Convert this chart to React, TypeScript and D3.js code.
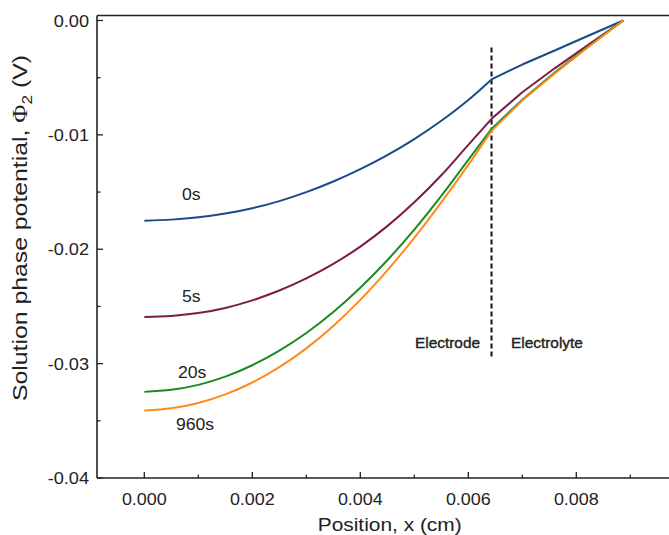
import React from "react";
import * as d3 from "d3";

// Positions across the cell (cm); index 13 is the electrode/electrolyte interface
const positions = [
  0, 0.0005, 0.001, 0.0015, 0.002, 0.0025, 0.003, 0.0035, 0.004, 0.0045, 0.005,
  0.0055, 0.006, 0.00643, 0.007, 0.0076, 0.0082, 0.00887,
];
const interfaceIndex = 13;
const interfaceX = 0.00643;

// Solution phase potential (V) at each position for each time
const phi0s = [
  -0.01751, -0.01741, -0.01721, -0.01688, -0.01641, -0.01579, -0.01501, -0.01408,
  -0.013, -0.01177, -0.01037, -0.00877, -0.00695, -0.00515, -0.00385, -0.00262,
  -0.00138, 0,
];
const phi5s = [
  -0.02592, -0.02583, -0.02558, -0.02513, -0.02447, -0.02361, -0.02255, -0.02128,
  -0.01977, -0.01798, -0.01589, -0.01353, -0.01087, -0.0086, -0.00627, -0.00418,
  -0.0022, 0,
];
const phi20s = [
  -0.03247, -0.03229, -0.03186, -0.03114, -0.03014, -0.02887, -0.02732, -0.02548,
  -0.02336, -0.02096, -0.01828, -0.01533, -0.01218, -0.00948, -0.00692, -0.00455,
  -0.00234, 0,
];
const phi960s = [
  -0.0341, -0.0339, -0.03344, -0.03269, -0.03165, -0.03031, -0.02867, -0.02671,
  -0.02443, -0.02185, -0.019, -0.0159, -0.01262, -0.00965, -0.007, -0.00463,
  -0.0024, 0,
];

const seriesNames = ["0s", "5s", "20s", "960s"];
const seriesValues = [phi0s, phi5s, phi20s, phi960s];
const seriesColors = ["#1b4a8c", "#7c1a4c", "#1c8a1f", "#ff8a1c"];

const xMajorTicks = [0, 0.002, 0.004, 0.006, 0.008];
const xMinorTicks = [0.001, 0.003, 0.005, 0.007, 0.009];
const yMajorTicks = [0, -0.01, -0.02, -0.03, -0.04];
const yMinorTicks = [-0.005, -0.015, -0.025, -0.035];

const W = 669;
const H = 535;
const FONT = "'Liberation Sans', Arial, Helvetica, sans-serif";
const INK = "#222";
const SX = 1.1;

const x = d3.scaleLinear().domain([0, 0.008]).range([144.3, 576.3]);
const y = d3.scaleLinear().domain([-0.04, 0]).range([478, 20.5]);

const frameLeft = 97;
const frameTop = 15.5;
const frameBottom = y(-0.04);
const frameRight = 700;

function Label(props: {
  x: number;
  y: number;
  anchor?: string;
  size: number;
  bold?: boolean;
  children: React.ReactNode;
}) {
  return (
    <text
      transform={`translate(${props.x},${props.y}) scale(${SX},1)`}
      textAnchor={props.anchor || "start"}
      fontSize={props.size}
      fontFamily={FONT}
      fill={INK}
      stroke={props.bold ? INK : "none"}
      strokeWidth={props.bold ? 0.35 : 0}
    >
      {props.children}
    </text>
  );
}

export default function App() {
  const pts = (vals: number[]) => positions.map((p, i) => [p, vals[i]] as [number, number]);
  // electrode side drawn as a smooth curve, electrolyte side as straight segments
  const electrodeLine = d3
    .line<[number, number]>()
    .x((d) => x(d[0]))
    .y((d) => y(d[1]))
    .curve(d3.curveMonotoneX);
  const electrolyteLine = d3
    .line<[number, number]>()
    .x((d) => x(d[0]))
    .y((d) => y(d[1]))
    .curve(d3.curveLinear);

  const curvePath = (vals: number[]) => {
    const all = pts(vals);
    const left = electrodeLine(all.slice(0, interfaceIndex + 1)) || "";
    const right = electrolyteLine(all.slice(interfaceIndex)) || "";
    return left + right.replace(/^M/, "L");
  };

  const labelPos = [
    { px: 182, py: 200 },
    { px: 182, py: 301.5 },
    { px: 178, py: 378 },
    { px: 176, py: 430 },
  ];

  return (
    <svg
      width={W}
      height={H}
      style={{ position: "absolute", left: 0, top: 0, background: "#fff" }}
    >
      {/* frame */}
      <line x1={frameLeft} x2={frameRight} y1={frameTop} y2={frameTop} stroke={INK} strokeWidth={1.6} />
      <line x1={frameLeft} x2={frameLeft} y1={frameTop} y2={frameBottom} stroke={INK} strokeWidth={1.6} />
      <line x1={frameLeft} x2={frameRight} y1={frameBottom} y2={frameBottom} stroke={INK} strokeWidth={1.6} />

      {/* y ticks */}
      {yMajorTicks.map((t) => (
        <g key={`ym${t}`}>
          <line x1={frameLeft} x2={frameLeft + 6} y1={y(t)} y2={y(t)} stroke={INK} strokeWidth={1.3} />
          <Label x={89} y={y(t) + 6} anchor="end" size={16.5}>
            {d3.format(".2f")(t).replace("−", "-")}
          </Label>
        </g>
      ))}
      {yMinorTicks.map((t) => (
        <line key={`yn${t}`} x1={frameLeft} x2={frameLeft + 3.5} y1={y(t)} y2={y(t)} stroke={INK} strokeWidth={1.3} />
      ))}

      {/* x ticks */}
      {xMajorTicks.map((t) => (
        <g key={`xm${t}`}>
          <line x1={x(t)} x2={x(t)} y1={frameBottom} y2={frameBottom - 6} stroke={INK} strokeWidth={1.3} />
          <Label x={x(t)} y={505} anchor="middle" size={16.3}>
            {d3.format(".3f")(t)}
          </Label>
        </g>
      ))}
      {xMinorTicks.map((t) => (
        <line key={`xn${t}`} x1={x(t)} x2={x(t)} y1={frameBottom} y2={frameBottom - 3.5} stroke={INK} strokeWidth={1.3} />
      ))}

      {/* axis titles */}
      <text
        x={389.7}
        y={531}
        textAnchor="middle"
        fontSize={18.5}
        fontFamily={FONT}
        fill={INK}
        textLength={144}
        lengthAdjust="spacingAndGlyphs"
      >
        Position, x (cm)
      </text>
      <text
        transform={`translate(27,228) rotate(-90)`}
        textAnchor="middle"
        fontSize={20}
        fontFamily={FONT}
        fill={INK}
        textLength={346}
        lengthAdjust="spacingAndGlyphs"
      >
        Solution phase potential,{" "}
        <tspan fontFamily="'Liberation Serif', 'Times New Roman', serif">Φ</tspan>
        <tspan fontSize={14} dy={5}>2</tspan>
        <tspan dy={-5}> (V)</tspan>
      </text>

      {/* interface marker */}
      <line
        x1={x(interfaceX)}
        x2={x(interfaceX)}
        y1={y(-0.00235)}
        y2={y(-0.02965)}
        stroke="#111"
        strokeWidth={2}
        strokeDasharray="5,3"
      />
      <Label x={480} y={348} anchor="end" size={14} bold>
        Electrode
      </Label>
      <Label x={511} y={348} anchor="start" size={14} bold>
        Electrolyte
      </Label>

      {/* potential profiles */}
      {seriesValues.map((vals, i) => (
        <path
          key={seriesNames[i]}
          d={curvePath(vals)}
          fill="none"
          stroke={seriesColors[i]}
          strokeWidth={2}
          strokeLinejoin="round"
        />
      ))}

      {seriesNames.map((n, i) => (
        <Label key={`l${n}`} x={labelPos[i].px} y={labelPos[i].py} size={16}>
          {n}
        </Label>
      ))}
    </svg>
  );
}
